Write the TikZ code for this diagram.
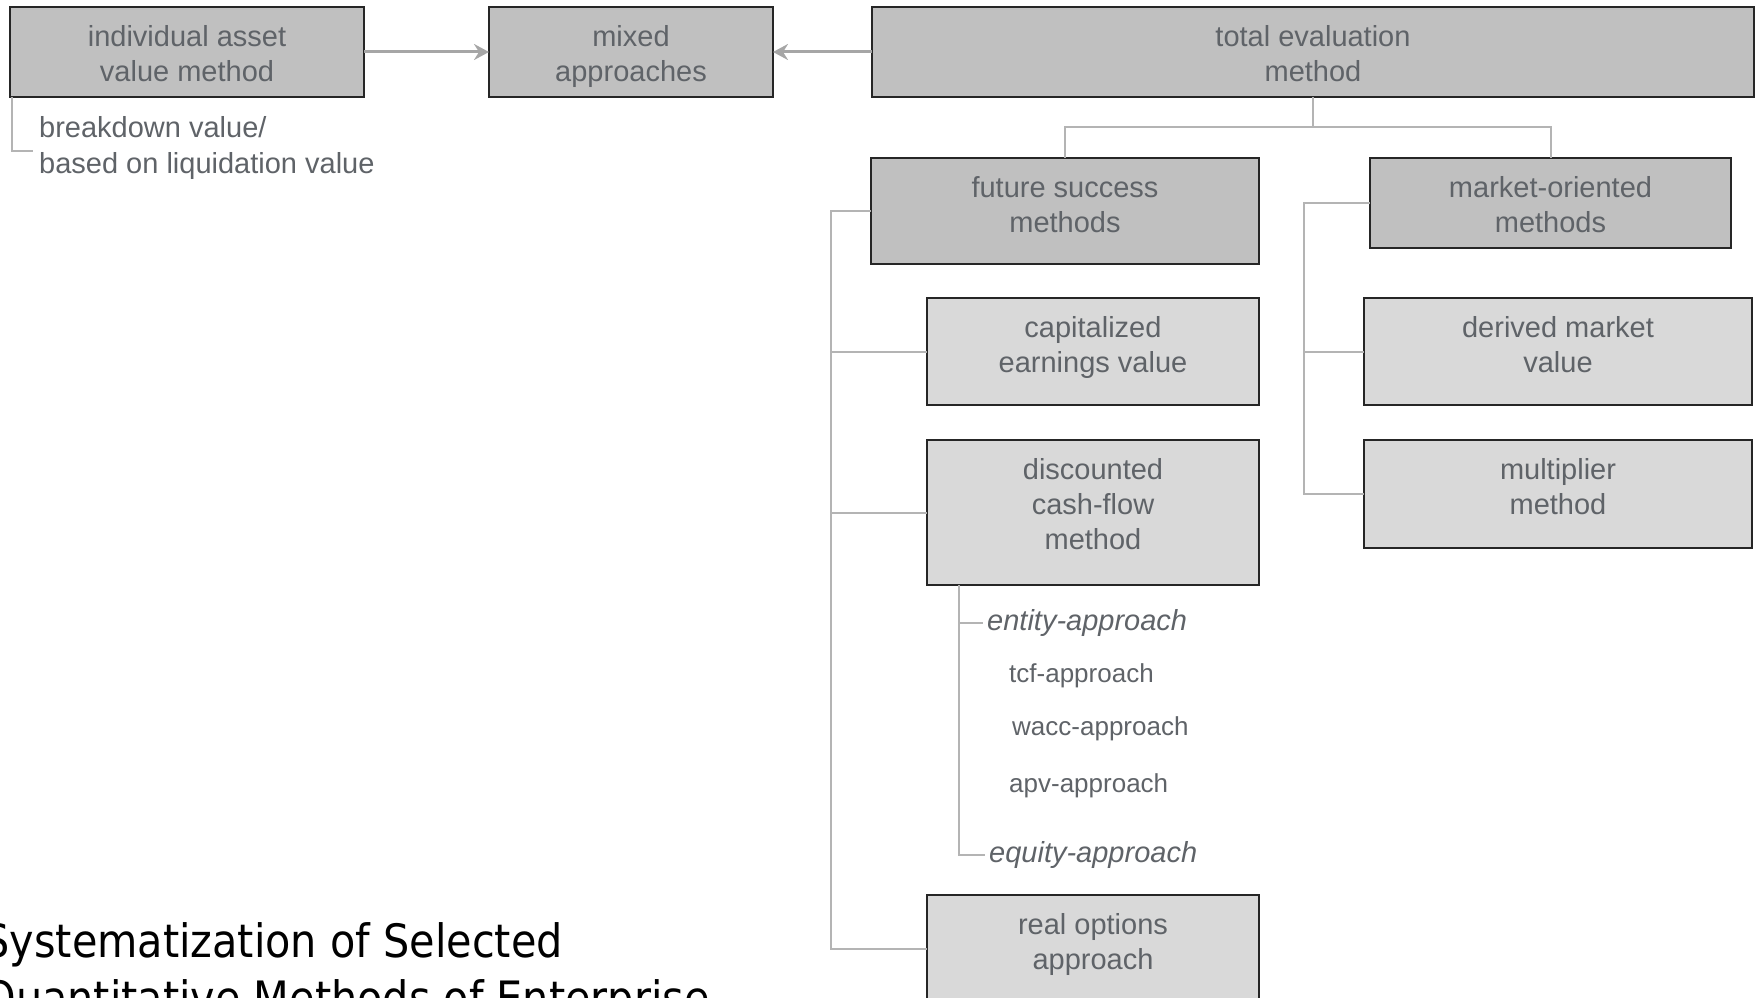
\documentclass[tikz,border=0pt]{standalone}
\usepackage{fontspec}
\setmainfont{Liberation Sans}
\newfontfamily\titlefont{DejaVu Sans Condensed}
\usetikzlibrary{arrows.meta}

\definecolor{fillhi}{HTML}{C0C0C0}
\definecolor{filllo}{HTML}{D9D9D9}
\definecolor{boxline}{HTML}{262626}
\definecolor{txtgray}{HTML}{5F6368}
\definecolor{treeline}{HTML}{B4B4B4}
\definecolor{arrline}{HTML}{A6A6A6}

\begin{document}
\begin{tikzpicture}[x=1pt, y=-1pt,
  boxbase/.style={draw=boxline, line width=2pt, anchor=north west,
    inner sep=0pt, outer sep=0pt},
  boxhi/.style={boxbase, fill=fillhi},
  boxlo/.style={boxbase, fill=filllo},
  lbl/.style={anchor=north, align=center, inner sep=0pt, text=txtgray,
    font=\fontsize{29}{35}\selectfont},
  note/.style={align=left, inner sep=0pt, text=txtgray,
    font=\fontsize{29}{36}\selectfont},
  subit/.style={anchor=base west, inner sep=0pt, text=txtgray,
    font=\fontsize{26}{31}\selectfont},
  subhead/.style={anchor=base west, inner sep=0pt, text=txtgray,
    font=\fontsize{29}{35}\selectfont\itshape},
  tree/.style={draw=treeline, line width=2pt},
  arr/.style={draw=arrline, line width=3pt,
    -{Stealth[length=15pt, width=16pt, inset=5pt]}},
  titlef/.style={inner sep=0pt, text=black,
    font=\titlefont\fontsize{46}{57}\selectfont}
]
\useasboundingbox (0,0) rectangle (1756,998);
\clip (0,0) rectangle (1756,998);

% top row
\node[boxhi, minimum width=354pt, minimum height=90pt] (ia) at (10,7) {};
\node[boxhi, minimum width=284pt, minimum height=90pt] (mx) at (489,7) {};
\node[boxhi, minimum width=882pt, minimum height=90pt] (te) at (872,7) {};

% second level
\node[boxhi, minimum width=388pt, minimum height=106pt] (fs) at (871,158) {};
\node[boxhi, minimum width=361pt, minimum height=90pt] (mo) at (1370,158) {};

% methods
\node[boxlo, minimum width=332pt, minimum height=107pt] (ce) at (927,298) {};
\node[boxlo, minimum width=332pt, minimum height=145pt] (dcf) at (927,440) {};
\node[boxlo, minimum width=332pt, minimum height=108pt] (ro) at (927,895) {};
\node[boxlo, minimum width=388pt, minimum height=107pt] (dm) at (1364,298) {};
\node[boxlo, minimum width=388pt, minimum height=108pt] (mm) at (1364,440) {};

% box captions
\node[lbl] (ia-t) at ([yshift=-18pt]ia.north) {individual asset\\value method};
\node[lbl] (mx-t) at ([yshift=-18pt]mx.north) {mixed\\approaches};
\node[lbl] (te-t) at ([yshift=-18pt]te.north) {total evaluation\\method};
\node[lbl] (fs-t) at ([yshift=-18pt]fs.north) {future success\\methods};
\node[lbl] (mo-t) at ([yshift=-18pt]mo.north) {market-oriented\\methods};
\node[lbl] (ce-t) at ([yshift=-18pt]ce.north) {capitalized\\earnings value};
\node[lbl] (dcf-t) at ([yshift=-18pt]dcf.north) {discounted\\cash-flow\\method};
\node[lbl] (ro-t) at ([yshift=-18pt]ro.north) {real options\\approach};
\node[lbl] (dm-t) at ([yshift=-18pt]dm.north) {derived market\\value};
\node[lbl] (mm-t) at ([yshift=-18pt]mm.north) {multiplier\\method};

% arrows into the mixed approaches
\draw[arr] (ia.east) -- (mx.west);
\draw[arr] (te.west) -- (mx.east);

% note below the individual asset value method
\node[note, anchor=north west] (bd) at (39,116) {breakdown value/\\based on liquidation value};
\coordinate (bdend) at (33,151);
\draw[tree] ([xshift=2pt]ia.south west) |- (bdend);

% split of the total evaluation method
\draw[tree] (te.south) -- ++(0,30) -| (fs.north);
\draw[tree] (te.south) -- ++(0,30) -| (mo.north);

% future success methods bracket
\coordinate (fsbus) at ([xshift=-40pt]fs.west);
\draw[tree] (fs.west) -- (fsbus) |- (ro.west);
\draw[tree] (fsbus) |- (ce.west);
\draw[tree] (fsbus) |- (dcf.west);

% market-oriented methods bracket
\coordinate (mobus) at ([xshift=-66pt]mo.west);
\draw[tree] (mo.west) -- (mobus) |- (mm.west);
\draw[tree] (mobus) |- (dm.west);

% discounted cash-flow variants
\node[subhead] (ent) at (987,630) {entity-approach};
\node[subit] (tcf) at (1009,682) {tcf-approach};
\node[subit] (wacc) at (1012,735) {wacc-approach};
\node[subit] (apv) at (1009,792) {apv-approach};
\node[subhead] (eq) at (989,862) {equity-approach};
\draw[tree] ([xshift=32pt]dcf.south west) |- ([xshift=-4pt]eq.west);
\draw[tree] ([xshift=32pt]dcf.south west) |- ([xshift=-4pt]ent.west);

% title
\node[titlef, anchor=base east] (t1) at (563,957) {Systematization of Selected};
\node[titlef, anchor=base west] (t2) at ([yshift=-57pt]t1.base west) {Quantitative Methods of Enterprise};
\end{tikzpicture}
\end{document}
